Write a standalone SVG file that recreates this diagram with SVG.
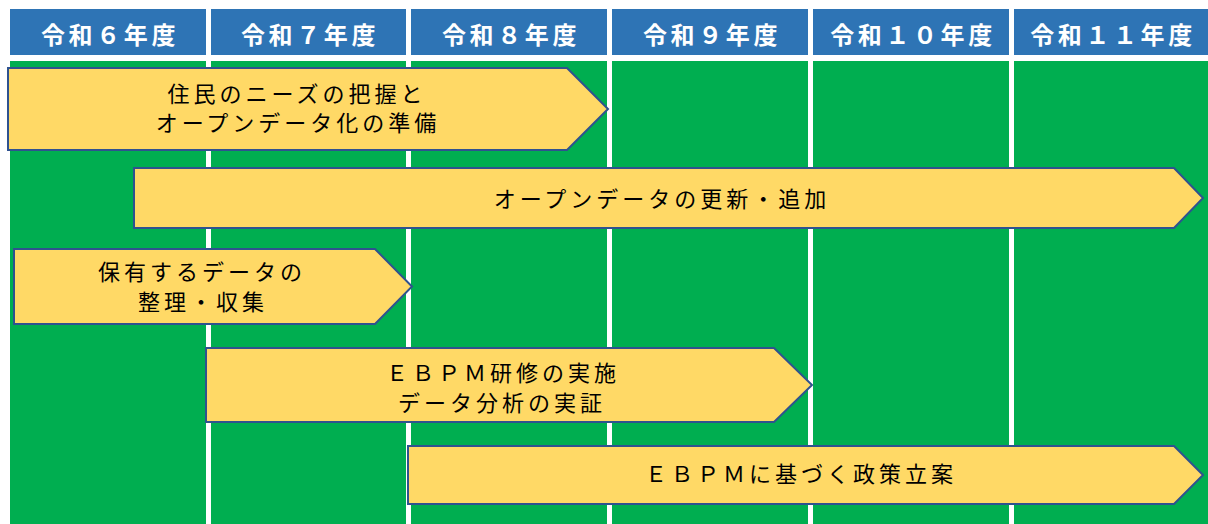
<svg xmlns="http://www.w3.org/2000/svg" width="1208" height="524" viewBox="0 0 1208 524">
<style>
.hd{fill:#2E74B5}
.col{fill:#00AE50}
.hdt{font-family:"Noto Sans CJK JP","Noto Sans CJK SC",sans-serif;font-weight:bold;font-size:24px;fill:#FFFFFF;text-anchor:middle;letter-spacing:3.6px}
.ar{fill:#FFD966;stroke:#2F528F;stroke-width:2;stroke-linejoin:miter}
.at{font-family:"Noto Sans CJK JP","Noto Sans CJK SC",sans-serif;font-size:22px;fill:#000000;text-anchor:middle;letter-spacing:4px}
</style>
<rect width="1208" height="524" fill="#FFFFFF"/>
<g id="columns">
<rect class="col" x="10" y="61" width="196" height="463"/>
<rect class="col" x="211" y="61" width="195" height="463"/>
<rect class="col" x="411" y="61" width="196" height="463"/>
<rect class="col" x="612" y="61" width="196" height="463"/>
<rect class="col" x="813" y="61" width="196" height="463"/>
<rect class="col" x="1014" y="61" width="194" height="463"/>
</g>
<g id="header">
<g id="h6"><rect class="hd" x="10" y="9" width="196" height="46"/><text class="hdt" x="110" y="44">令和６年度</text></g>
<g id="h7"><rect class="hd" x="211" y="9" width="195" height="46"/><text class="hdt" x="310" y="44">令和７年度</text></g>
<g id="h8"><rect class="hd" x="411" y="9" width="196" height="46"/><text class="hdt" x="511" y="44">令和８年度</text></g>
<g id="h9"><rect class="hd" x="612" y="9" width="196" height="46"/><text class="hdt" x="712" y="44">令和９年度</text></g>
<g id="h10"><rect class="hd" x="813" y="9" width="196" height="46"/><text class="hdt" x="913" y="44">令和１０年度</text></g>
<g id="h11"><rect class="hd" x="1014" y="9" width="194" height="46"/><text class="hdt" x="1113" y="44">令和１１年度</text></g>
</g>
<g id="connectors"></g>
<g id="a1">
<polygon class="ar" points="8,68 567,68 608,109 567,150 8,150"/>
<text class="at" x="297" y="102">住民のニーズの把握と</text>
<text class="at" x="298" y="131">オープンデータ化の準備</text>
</g>
<g id="a2">
<polygon class="ar" points="134,168 1174,168 1203,198 1174,228 134,228"/>
<text class="at" x="662" y="207">オープンデータの更新・追加</text>
</g>
<g id="a3">
<polygon class="ar" points="14,249 375,249 412,286.5 375,324 14,324"/>
<text class="at" x="202" y="280">保有するデータの</text>
<text class="at" x="203" y="309.5">整理・収集</text>
</g>
<g id="a4">
<polygon class="ar" points="206,348 774,348 812,385 774,422 206,422"/>
<text class="at" x="503" y="381">ＥＢＰＭ研修の実施</text>
<text class="at" x="502" y="410.5">データ分析の実証</text>
</g>
<g id="a5">
<polygon class="ar" points="408,446 1174,446 1203,475 1174,504 408,504"/>
<text class="at" x="801" y="482">ＥＢＰＭに基づく政策立案</text>
</g>
</svg>
